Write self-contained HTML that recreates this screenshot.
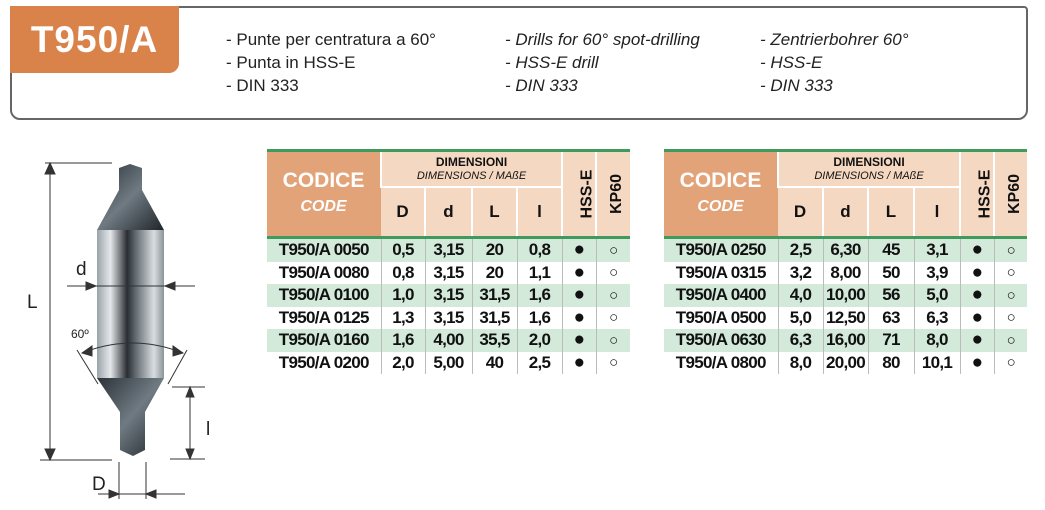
<!DOCTYPE html>
<html><head><meta charset="utf-8"><style>
body{margin:0;width:1045px;height:510px;background:#fff;position:relative;overflow:hidden;font-family:"Liberation Sans",sans-serif;}
.box{position:absolute;left:10px;top:6px;width:1018px;height:114px;border:2px solid #666;border-radius:0 0 10px 10px;border-top-right-radius:4px;box-sizing:border-box}
.tab{position:absolute;left:10px;top:6px;width:169px;height:67px;background:#d9824a;border-radius:0 0 10px 0;color:#fff;font-weight:bold;font-size:37px;line-height:67px;text-align:center;letter-spacing:1px}
.txt{position:absolute;top:28px;font-size:17px;line-height:23px;color:#222}
.it{font-style:italic}
table{position:absolute;top:149px;border-collapse:collapse;table-layout:fixed;font-family:"Liberation Sans",sans-serif;font-weight:bold;color:#111;border-top:3px solid #3f9a5c}
td{padding:0;text-align:center;font-size:17px;height:22.5px;border-left:1px solid #bbb;letter-spacing:-0.7px}
td:first-child{border-left:none}
.hc{background:#e3a378;color:#fff;font-size:21px;line-height:24px;border-bottom:3px solid #3f9a5c;letter-spacing:0}
.hc i{font-size:16px}
.hp{background:#f5d8c2;border-left:2px solid #fff;letter-spacing:0}
.h1{height:34px;font-size:12px;line-height:13px;border-bottom:2px solid #fff}
.h1 i{font-weight:normal;font-size:11px}
.h2{height:48px;font-size:17px;border-bottom:3px solid #3f9a5c}
.v{border-bottom:3px solid #3f9a5c;font-size:16px}
.v span{display:inline-block;transform:rotate(-90deg);white-space:nowrap}
tr.g td{background:#d3eadb}
.dot{font-size:19px;line-height:18px}
.o{font-size:15px;font-weight:normal}
</style></head><body>
<div class="box"></div>
<div class="tab">T950/A</div>
<div class="txt" style="left:226px">- Punte per centratura a 60°<br>- Punta in HSS-E<br>- DIN 333</div>
<div class="txt it" style="left:505px">- Drills for 60° spot-drilling<br>- HSS-E drill<br>- DIN 333</div>
<div class="txt it" style="left:760px">- Zentrierbohrer 60°<br>- HSS-E<br>- DIN 333</div>

<svg style="position:absolute;left:0;top:150px" width="230" height="360" viewBox="0 0 230 360">
<defs>
<linearGradient id="g" x1="0" x2="1" y1="0" y2="0">
<stop offset="0" stop-color="#9aa3a8"/><stop offset="0.2" stop-color="#e4e8ea"/><stop offset="0.45" stop-color="#2a2e33"/><stop offset="0.6" stop-color="#6d757b"/><stop offset="0.85" stop-color="#d8dde0"/><stop offset="1" stop-color="#8c959a"/>
</linearGradient>
<linearGradient id="g2" x1="0" x2="1" y1="0" y2="1">
<stop offset="0" stop-color="#2c3238"/><stop offset="0.5" stop-color="#6f7a82"/><stop offset="1" stop-color="#1f2429"/>
</linearGradient>
</defs>
<polygon points="97,80 164,80 164,228 97,228" fill="url(#g)"/>
<polygon points="119,18 130,14 142,18 142,40 164,80 97,80 119,40" fill="url(#g2)"/>
<polygon points="97,228 164,228 145,262 145,300 133,306 120,300 120,262" fill="url(#g2)"/>
<g stroke="#333" stroke-width="1" fill="#333">
<line x1="45" y1="13" x2="112" y2="13"/><line x1="40" y1="310" x2="112" y2="310"/>
<line x1="50" y1="20" x2="50" y2="303"/>
<polygon points="50,13 45,24 55,24"/><polygon points="50,310 45,299 55,299"/>
<line x1="67" y1="136" x2="195" y2="136"/>
<polygon points="96,136 86,132 86,140"/><polygon points="165,136 175,132 175,140"/>
<line x1="172" y1="237" x2="205" y2="237"/><line x1="170" y1="309" x2="205" y2="309"/>
<line x1="190" y1="244" x2="190" y2="302"/>
<polygon points="190,237 186,247 194,247"/><polygon points="190,309 186,299 194,299"/>
<line x1="119" y1="312" x2="119" y2="349"/><line x1="146" y1="312" x2="146" y2="349"/>
<line x1="98" y1="344" x2="185" y2="344"/>
<polygon points="119,344 109,340 109,348"/><polygon points="146,344 156,340 156,348"/>
<line x1="77" y1="200" x2="98" y2="234"/><line x1="187" y1="200" x2="168" y2="234"/>
<path d="M82,203 Q132,183 183,203" fill="none"/>
<polygon points="82,203 92,196 92,206"/><polygon points="183,203 173,196 173,206"/>
</g>
<g font-family="Liberation Sans,sans-serif" fill="#222">
<text x="76" y="125" font-size="19">d</text>
<text x="27" y="158" font-size="19">L</text>
<text x="71" y="188" font-size="12">60º</text>
<text x="206" y="285" font-size="19">l</text>
<text x="92" y="340" font-size="19">D</text>
</g>
</svg>

<table style="left:267px;width:363px">
<colgroup><col style="width:114px"><col style="width:44px"><col style="width:47px"><col style="width:45px"><col style="width:45px"><col style="width:34px"><col style="width:34px"></colgroup>
<tr><td class="hc" rowspan="2">CODICE<br><i>CODE</i></td><td class="hp h1" colspan="4">DIMENSIONI<br><i>DIMENSIONS / MAßE</i></td><td class="hp v" rowspan="2"><span>HSS-E</span></td><td class="hp v" rowspan="2"><span>KP60</span></td></tr>
<tr><td class="hp h2">D</td><td class="hp h2">d</td><td class="hp h2">L</td><td class="hp h2">l</td></tr>
<tr class="g"><td>T950/A 0050</td><td>0,5</td><td>3,15</td><td>20</td><td>0,8</td><td class="dot">●</td><td class="o">○</td></tr>
<tr><td>T950/A 0080</td><td>0,8</td><td>3,15</td><td>20</td><td>1,1</td><td class="dot">●</td><td class="o">○</td></tr>
<tr class="g"><td>T950/A 0100</td><td>1,0</td><td>3,15</td><td>31,5</td><td>1,6</td><td class="dot">●</td><td class="o">○</td></tr>
<tr><td>T950/A 0125</td><td>1,3</td><td>3,15</td><td>31,5</td><td>1,6</td><td class="dot">●</td><td class="o">○</td></tr>
<tr class="g"><td>T950/A 0160</td><td>1,6</td><td>4,00</td><td>35,5</td><td>2,0</td><td class="dot">●</td><td class="o">○</td></tr>
<tr><td>T950/A 0200</td><td>2,0</td><td>5,00</td><td>40</td><td>2,5</td><td class="dot">●</td><td class="o">○</td></tr>
</table>

<table style="left:664px;width:363px">
<colgroup><col style="width:114px"><col style="width:45px"><col style="width:45px"><col style="width:46px"><col style="width:46px"><col style="width:34px"><col style="width:33px"></colgroup>
<tr><td class="hc" rowspan="2">CODICE<br><i>CODE</i></td><td class="hp h1" colspan="4">DIMENSIONI<br><i>DIMENSIONS / MAßE</i></td><td class="hp v" rowspan="2"><span>HSS-E</span></td><td class="hp v" rowspan="2"><span>KP60</span></td></tr>
<tr><td class="hp h2">D</td><td class="hp h2">d</td><td class="hp h2">L</td><td class="hp h2">l</td></tr>
<tr class="g"><td>T950/A 0250</td><td>2,5</td><td>6,30</td><td>45</td><td>3,1</td><td class="dot">●</td><td class="o">○</td></tr>
<tr><td>T950/A 0315</td><td>3,2</td><td>8,00</td><td>50</td><td>3,9</td><td class="dot">●</td><td class="o">○</td></tr>
<tr class="g"><td>T950/A 0400</td><td>4,0</td><td>10,00</td><td>56</td><td>5,0</td><td class="dot">●</td><td class="o">○</td></tr>
<tr><td>T950/A 0500</td><td>5,0</td><td>12,50</td><td>63</td><td>6,3</td><td class="dot">●</td><td class="o">○</td></tr>
<tr class="g"><td>T950/A 0630</td><td>6,3</td><td>16,00</td><td>71</td><td>8,0</td><td class="dot">●</td><td class="o">○</td></tr>
<tr><td>T950/A 0800</td><td>8,0</td><td>20,00</td><td>80</td><td>10,1</td><td class="dot">●</td><td class="o">○</td></tr>
</table>
</body></html>
